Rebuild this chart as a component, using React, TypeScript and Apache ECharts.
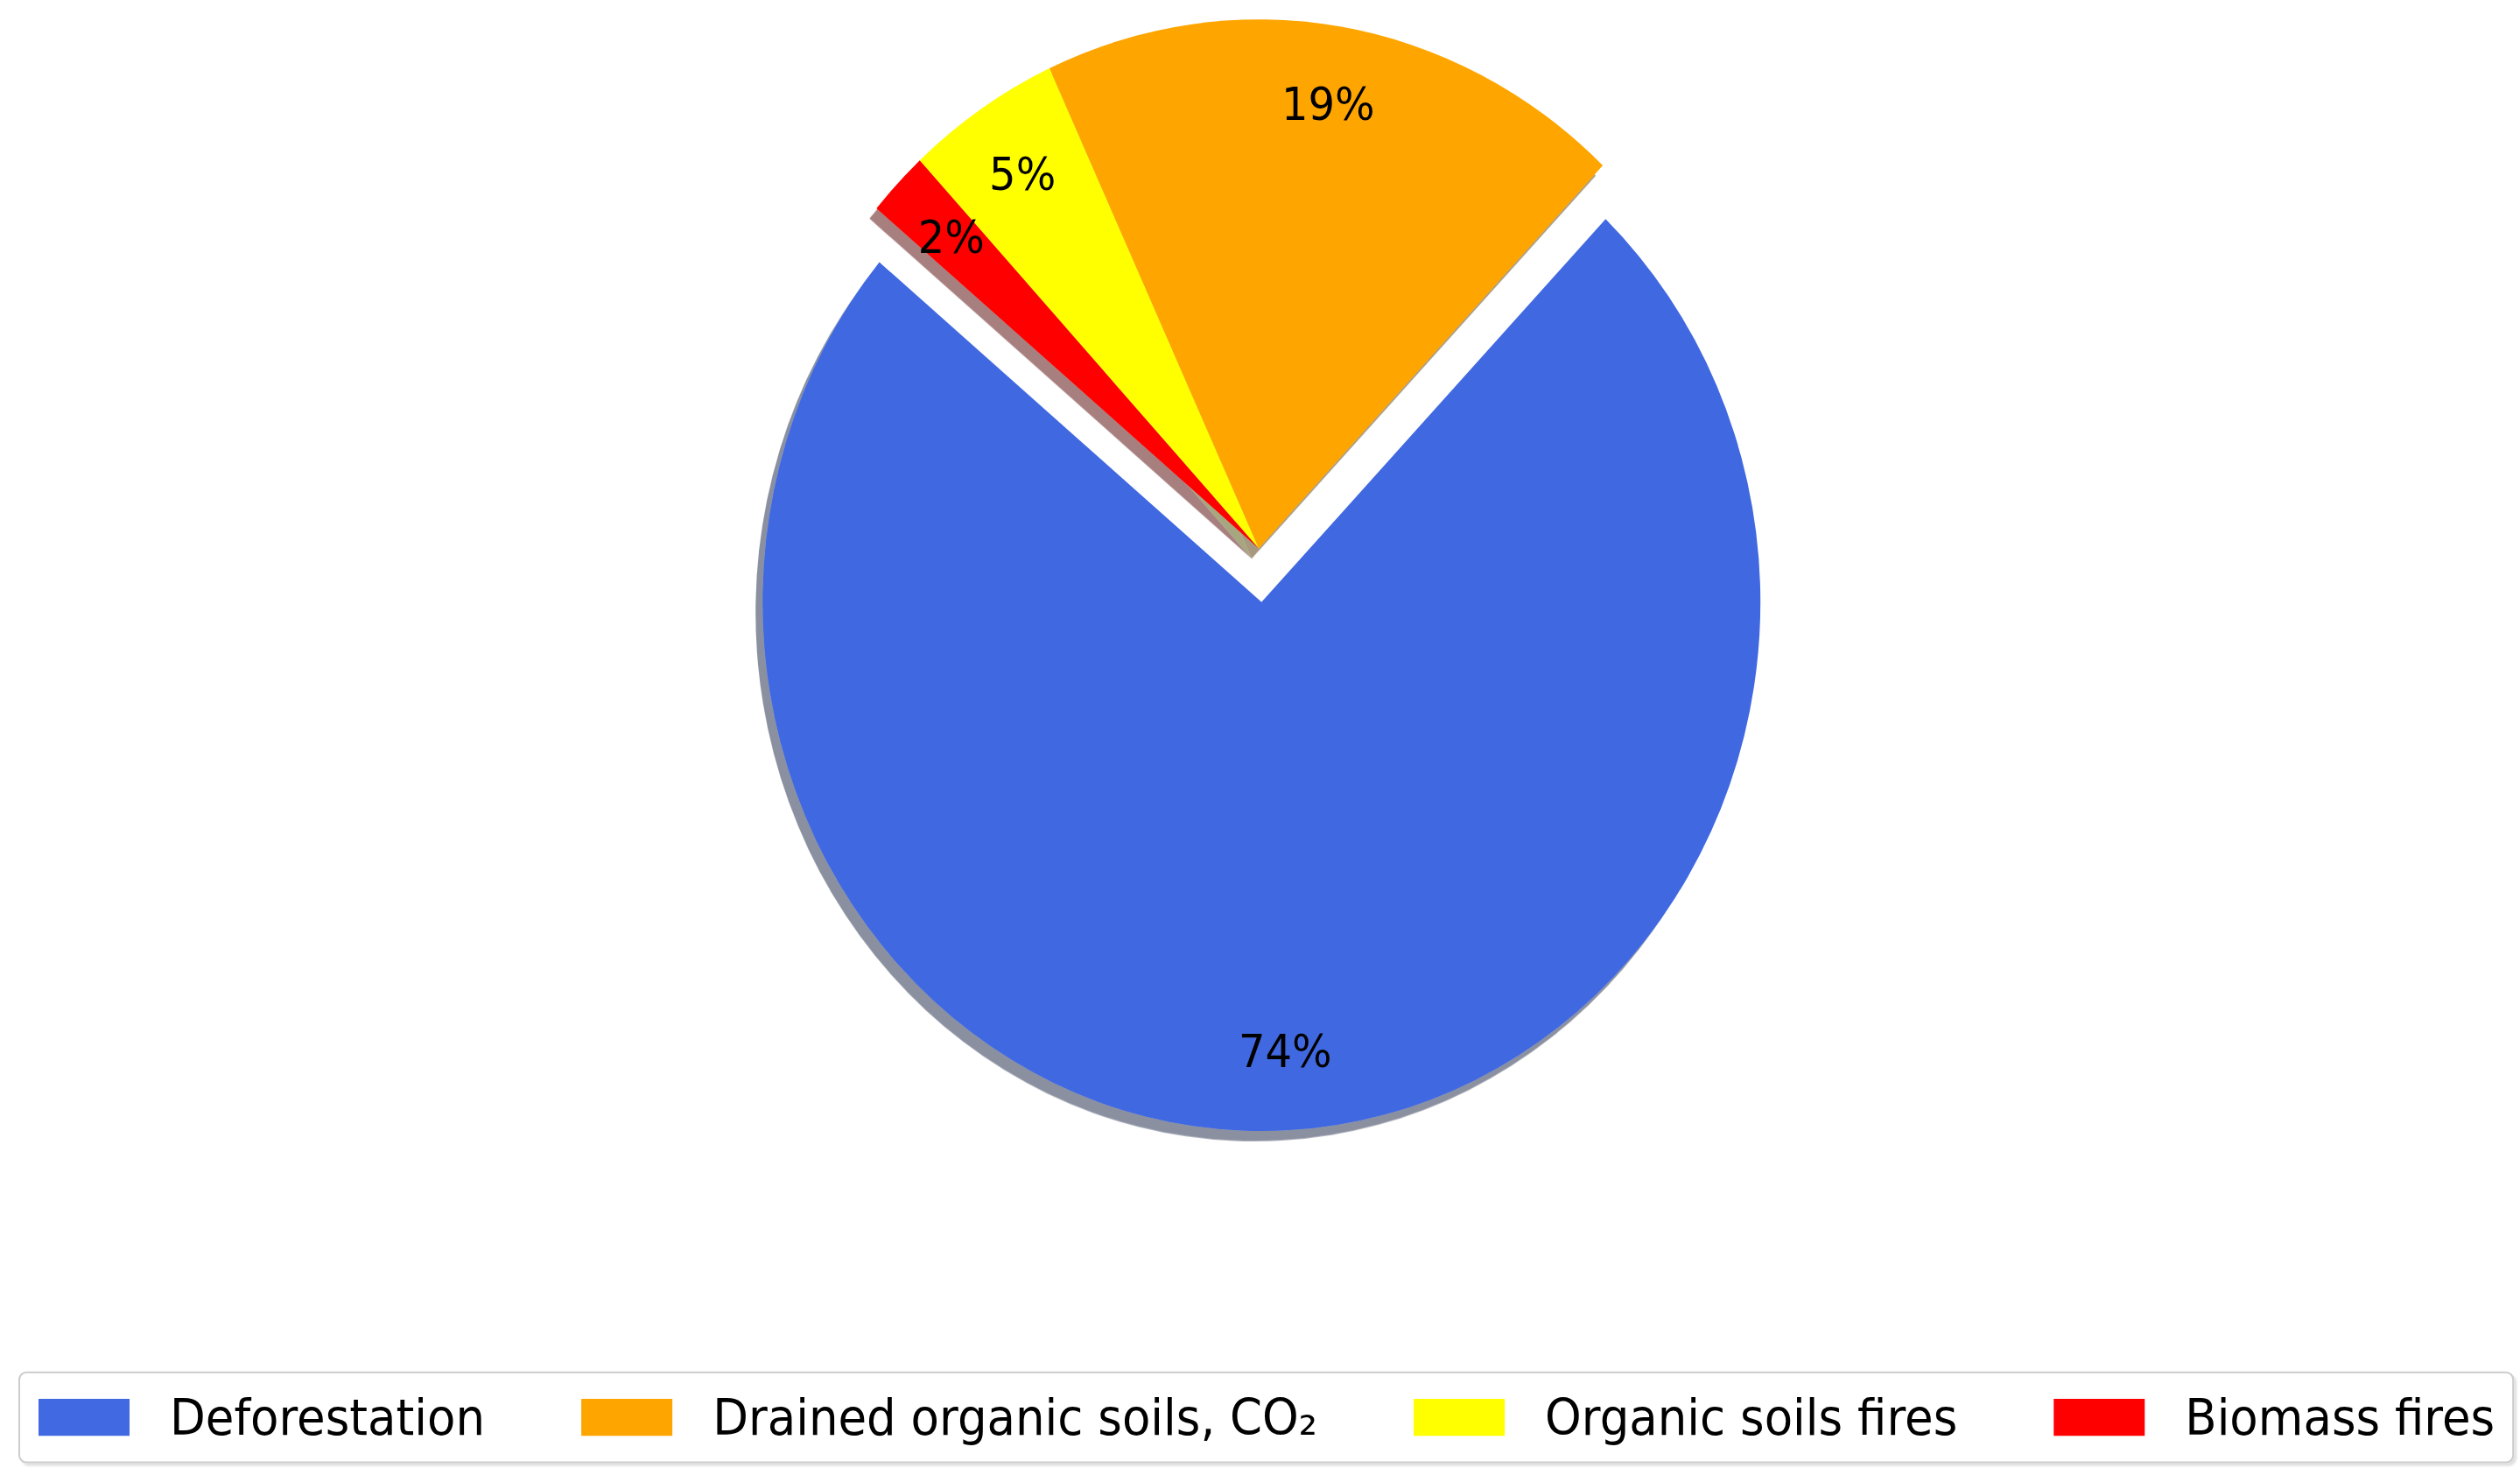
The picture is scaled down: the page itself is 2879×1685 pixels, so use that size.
import React, { useEffect, useRef } from "react";
import * as echarts from "echarts";

// ---- data ----
const categories = [
  "Deforestation",
  "Drained organic soils, CO₂",
  "Organic soils fires",
  "Biomass fires",
];
const shares = [74, 19, 5, 2];
const sliceColors = ["#4169E1", "#FFA500", "#FFFF00", "#FF0000"];
const shadowColors = [
  "rgba(19,31,67,0.5)",
  "rgba(77,50,0,0.5)",
  "rgba(77,77,0,0.5)",
  "rgba(77,0,0,0.5)",
];
const exploded = [true, false, false, false];

const PAGE_W = 2879;
const PAGE_H = 1685;
const STRETCH_Y = 1.06; // the reference pie is slightly taller than wide
const CHART_H = PAGE_H / STRETCH_Y;

export default function App() {
  const ref = useRef<HTMLDivElement>(null);

  useEffect(() => {
    if (!ref.current) return;
    const chart = echarts.init(ref.current, null, { renderer: "svg" });
    const center = [1438, 591];
    const R = 570;
    const labelDist = 482;
    const explodeOffset = 58;
    const font = "DejaVu Sans";

    chart.setOption({
      animation: false,
      backgroundColor: "#ffffff",
      textStyle: { fontFamily: font },
      legend: {
        left: 22,
        top: 1479,
        orient: "horizontal",
        selectedMode: false,
        data: categories.map((name, i) => ({
          name,
          itemStyle: { color: sliceColors[i] },
          textStyle:
            i === 1
              ? { padding: [0, 10, 0, 41] }
              : { padding: [0, 0, 0, 41] },
        })),
        icon: "rect",
        itemWidth: 104,
        itemHeight: 40,
        itemGap: 110,
        itemStyle: { shadowBlur: 0, shadowOffsetX: 0, shadowOffsetY: 0, borderWidth: 0 },
        padding: [22, 21, 22, 22],
        borderColor: "#cccccc",
        borderWidth: 2,
        borderRadius: 8,
        backgroundColor: "#ffffff",
        shadowColor: "rgba(0,0,0,0.12)",
        shadowBlur: 2,
        shadowOffsetX: 3,
        shadowOffsetY: 3,
        textStyle: {
          fontSize: 53,
          color: "#000000",
          fontFamily: font,
          padding: [0, 0, 0, 41],
        },
      },
      series: [
        {
          type: "pie",
          name: "slices",
          center,
          radius: R,
          startAngle: 140,
          clockwise: false,
          selectedMode: "multiple",
          selectedOffset: explodeOffset,
          silent: true,
          emphasis: { disabled: true },
          label: { show: false },
          labelLine: { show: false },
          data: categories.map((name, i) => ({
            name,
            value: shares[i],
            selected: exploded[i],
            itemStyle: {
              color: sliceColors[i],
              shadowColor: shadowColors[i],
              shadowOffsetX: -8,
              shadowOffsetY: 11,
              shadowBlur: 1,
            },
          })),
        },
        {
          type: "pie",
          name: "labels",
          center,
          radius: labelDist * 2,
          startAngle: 140,
          clockwise: false,
          selectedMode: "multiple",
          selectedOffset: explodeOffset,
          silent: true,
          emphasis: { disabled: true },
          itemStyle: { color: "rgba(0,0,0,0)" },
          labelLine: { show: false },
          label: {
            show: true,
            position: "inside",
            fontSize: 48,
            color: "#000000",
            fontFamily: font,
            formatter: (p: any) => Math.round(p.percent) + "%",
          },
          data: categories.map((name, i) => ({
            name,
            value: shares[i],
            selected: exploded[i],
          })),
        },
      ],
    });
    return () => chart.dispose();
  }, []);

  return (
    <div
      style={{
        position: "absolute",
        left: 0,
        top: 0,
        width: PAGE_W,
        height: PAGE_H,
        overflow: "hidden",
        background: "#ffffff",
      }}
    >
      <div
        ref={ref}
        style={{
          width: PAGE_W,
          height: CHART_H,
          transform: `scaleY(${STRETCH_Y})`,
          transformOrigin: "0 0",
        }}
      />
    </div>
  );
}
